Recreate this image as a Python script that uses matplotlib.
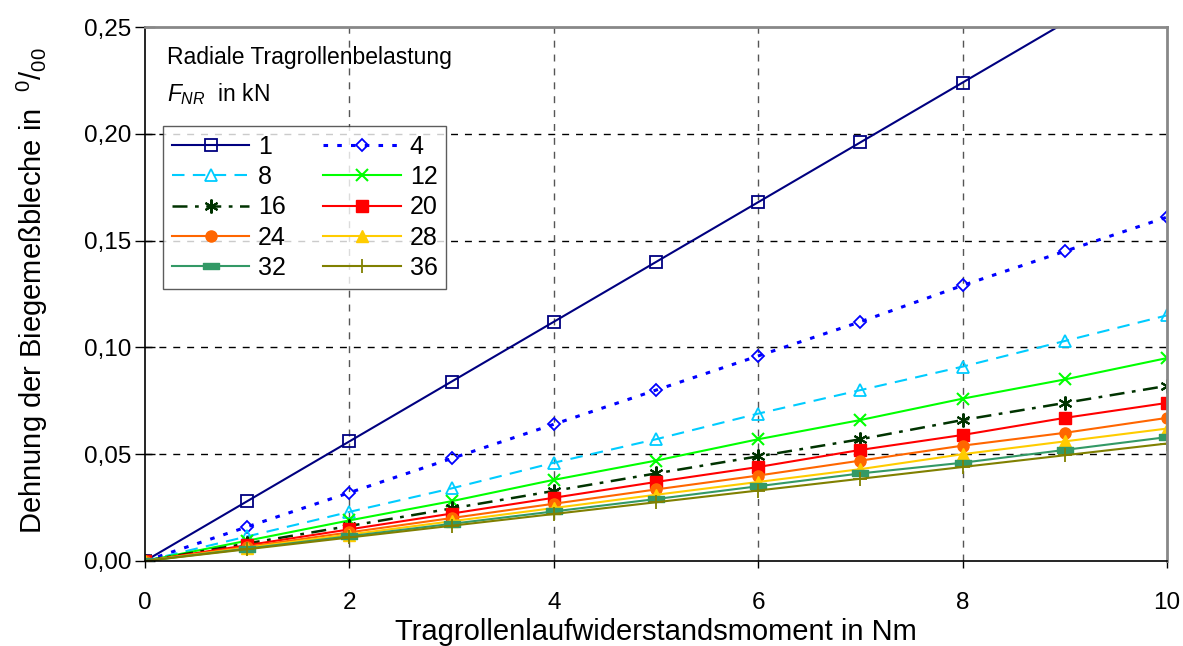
import matplotlib
matplotlib.use("Agg")
import matplotlib.pyplot as plt
from matplotlib.path import Path
import numpy as np

plt.rcParams['font.family'] = ['Liberation Sans', 'DejaVu Sans']
plt.rcParams['mathtext.fontset'] = 'custom'
plt.rcParams['mathtext.rm'] = 'Liberation Sans'
plt.rcParams['mathtext.it'] = 'Liberation Sans:italic'

x = [0, 1, 2, 3, 4, 5, 6, 7, 8, 9, 10]
s1 = [0, 0.028, 0.056, 0.084, 0.112, 0.140, 0.168, 0.196, 0.224, 0.252, 0.280]
s4 = [0, 0.016, 0.032, 0.048, 0.064, 0.080, 0.096, 0.112, 0.129, 0.145, 0.161]
s8 = [0, 0.0115, 0.023, 0.034, 0.046, 0.057, 0.069, 0.080, 0.091, 0.103, 0.115]
s12 = [0, 0.0095, 0.019, 0.028, 0.038, 0.047, 0.057, 0.066, 0.076, 0.085, 0.095]
s16 = [0, 0.0082, 0.0164, 0.0246, 0.0328, 0.041, 0.049, 0.057, 0.066, 0.074, 0.082]
s20 = [0, 0.0074, 0.0148, 0.0222, 0.0296, 0.037, 0.044, 0.052, 0.059, 0.067, 0.074]
s24 = [0, 0.0067, 0.0134, 0.0201, 0.0268, 0.0335, 0.040, 0.047, 0.054, 0.060, 0.067]
s28 = [0, 0.0062, 0.0124, 0.0186, 0.0248, 0.031, 0.037, 0.043, 0.050, 0.056, 0.062]
s32 = [0, 0.0058, 0.0116, 0.0174, 0.0232, 0.029, 0.035, 0.041, 0.046, 0.052, 0.058]
s36 = [0, 0.0055, 0.011, 0.0165, 0.022, 0.0275, 0.033, 0.0385, 0.044, 0.0495, 0.055]
labels = ['1', '4', '8', '12', '16', '20', '24', '28', '32', '36']
series = [s1, s4, s8, s12, s16, s20, s24, s28, s32, s36]

xticks = [0, 2, 4, 6, 8, 10]
yticks = [0.00, 0.05, 0.10, 0.15, 0.20, 0.25]
ytick_labels = ['0,00', '0,05', '0,10', '0,15', '0,20', '0,25']
YMAX = 0.25

bar = Path([(-1, -0.45), (1, -0.45), (1, 0.45), (-1, 0.45), (-1, -0.45)],
           [Path.MOVETO, Path.LINETO, Path.LINETO, Path.LINETO, Path.CLOSEPOLY])

styles = [
    dict(color='#000080', ls='-', marker='s', mfc='none', ms=8, mew=1.3),
    dict(color='#0000FF', ls=(0, (1.5, 3)), marker='D', mfc='none', ms=6, mew=1.3, lw=2.2),
    dict(color='#00CCFF', ls=(0, (6, 4)), marker='^', mfc='none', ms=8, mew=1.3),
    dict(color='#00FF00', ls='-', marker='x', ms=9, mew=1.5),
    dict(color='#003300', ls=(0, (6, 3, 1.5, 3)), marker=(6, 2, 0), ms=10, mew=1.5, lw=1.8),
    dict(color='#FF0000', ls='-', marker='s', ms=8),
    dict(color='#FF6600', ls='-', marker='o', ms=8),
    dict(color='#FFCC00', ls='-', marker='^', ms=9),
    dict(color='#339966', ls='-', marker=bar, ms=11),
    dict(color='#808000', ls='-', marker='+', ms=10, mew=1.3),
]

fig = plt.figure(figsize=(11.83, 6.46), dpi=100)
ax = fig.add_axes([0.1226, 0.1316, 0.8639, 0.8266])

handles = []
for vals, lab, st in zip(series, labels, styles):
    st = dict(st)
    lw = st.pop('lw', 1.5)
    # line through all points (clipped at the plot area)
    ax.plot(x, vals, lw=lw, color=st['color'], ls=st['ls'])
    # markers only for points inside the plot area (Excel hides out-of-range markers)
    mvals = np.ma.masked_greater(np.array(vals, dtype=float), YMAX)
    mk = {k: v for k, v in st.items() if k != 'ls'}
    ax.plot(x, mvals, ls='none', **mk)
    h, = ax.plot([], [], lw=lw, label=lab, **st)
    handles.append(h)

ax.set_xlim(0, 10)
ax.set_ylim(0, YMAX)
ax.set_xticks(xticks)
ax.set_xticklabels([str(v) for v in xticks])
ax.set_yticks(yticks)
ax.set_yticklabels(ytick_labels)
ax.tick_params(axis='both', labelsize=17.5, colors='black')
ax.tick_params(axis='y', direction='inout', length=14, width=1, pad=3)
ax.tick_params(axis='x', direction='out', length=5, width=1, pad=17)

for yv in yticks[1:-1]:
    ax.axhline(yv, color='black', ls=(0, (5, 5)), lw=1, zorder=0.5)
for xv in xticks[1:-1]:
    ax.axvline(xv, color='#555555', ls=(0, (5, 5)), lw=1, zorder=0.5)

ax.spines['left'].set_color('black')
ax.spines['bottom'].set_color('black')
ax.spines['left'].set_linewidth(1.2)
ax.spines['bottom'].set_linewidth(1.2)
ax.spines['top'].set_color('#888888')
ax.spines['right'].set_color('#888888')
ax.spines['top'].set_linewidth(2)
ax.spines['right'].set_linewidth(2)

ax.set_xlabel('Tragrollenlaufwiderstandsmoment in Nm', fontsize=21, labelpad=3)
ax.set_ylabel(r'Dehnung der Biegemeßbleche in  $^{0}/_{00}$', fontsize=21)
ax.yaxis.set_label_coords(-0.093, 0.507)

ax.text(0.215, 0.2355, 'Radiale Tragrollenbelastung', fontsize=16.5, va='center')
ax.text(0.215, 0.2186, r'$F_{NR}$  in kN', fontsize=16.5, va='center')

# column-major fill -> reorder so rows read 1,4 / 8,12 / ...
order = [0, 2, 4, 6, 8, 1, 3, 5, 7, 9]
leg = ax.legend([handles[i] for i in order], [labels[i] for i in order],
                ncol=2, loc='upper left', bbox_to_anchor=(0.0176, 0.8146),
                fontsize=18, frameon=True, fancybox=False, edgecolor='#333333',
                handlelength=3.1, handletextpad=0.35, columnspacing=1.5,
                labelspacing=0.25, borderpad=0.35, borderaxespad=0)
leg.get_frame().set_linewidth(1)

fig.savefig('out.png', dpi=100)
